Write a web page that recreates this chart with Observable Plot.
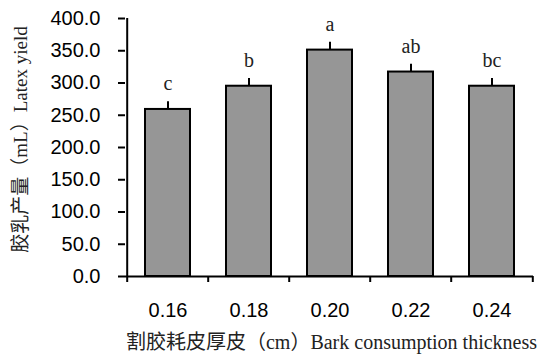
<!DOCTYPE html>
<html>
<head>
<meta charset="utf-8">
<script src="https://cdn.jsdelivr.net/npm/d3@7"></script>
<script src="https://cdn.jsdelivr.net/npm/@observablehq/plot@0.6"></script>
<style>
  html, body { margin: 0; padding: 0; background: #fff; }
</style>
</head>
<body>
<div id="chart"></div>
<script>
const categories = ["0.16", "0.18", "0.20", "0.22", "0.24"];
const values = [259, 295, 351, 317, 295];
const errors = [12, 12, 12, 12, 12];
const letters = ["c", "b", "a", "ab", "bc"];
const yTicks = [0, 50, 100, 150, 200, 250, 300, 350, 400];
const xTitle = "割胶耗皮厚皮（cm）Bark consumption thickness";
const yTitle = "胶乳产量（mL）Latex yield";

const data = categories.map((c, i) => ({cat: c, value: values[i], err: errors[i], top: values[i] + errors[i], letter: letters[i]}));

const W = 541, H = 357, ML = 125, MR = 8, MT = 18, MB = 81;
const step = (W - ML - MR) / categories.length;
const serif = "'Liberation Serif', 'Times New Roman', 'Noto Sans CJK SC', serif";
const sans = "'Liberation Sans', Arial, sans-serif";

const chart = Plot.plot({
  width: W,
  height: H,
  marginLeft: ML,
  marginRight: MR,
  marginTop: MT,
  marginBottom: MB,
  style: {fontFamily: sans, fontSize: "20px", color: "#000", background: "#fff"},
  x: {domain: categories, paddingInner: 0.45, paddingOuter: 0.225, label: null},
  y: {domain: [0, 400], label: null},
  marks: [
    Plot.barY(data, {x: "cat", y: "value", fill: "#969696", stroke: "#000", strokeWidth: 2}),
    Plot.ruleX(data, {x: "cat", y1: "value", y2: "top", stroke: "#000", strokeWidth: 2}),
    Plot.ruleY(data, {x: "cat", y: "top", stroke: "#000", strokeWidth: 2, insetLeft: 15, insetRight: 15}),
    Plot.text(data, {x: "cat", y: "top", text: "letter", dy: -18, fontFamily: serif, fontSize: 20, fill: "#222"}),
    Plot.axisY({ticks: yTicks, tickFormat: d3.format(".1f"), tickSize: 7, tickPadding: 18, strokeWidth: 2, label: null, fontSize: 20}),
    Plot.axisX({tickSize: 0, tickPadding: 26, label: null, fontSize: 20}),
    Plot.ruleY([0], {stroke: "#000", strokeWidth: 2}),
    Plot.ruleX([categories[0]], {x: d => d, y1: 0, y2: 400, dx: -step / 2, stroke: "#000", strokeWidth: 2}),
    Plot.ruleX(categories, {x: d => d, y1: 0, y2: 0, insetBottom: -6, dx: -step / 2, stroke: "#000", strokeWidth: 2}),
    Plot.ruleX([categories[categories.length - 1]], {x: d => d, y1: 0, y2: 0, insetBottom: -6, dx: step / 2, stroke: "#000", strokeWidth: 2}),
    Plot.text([xTitle], {frameAnchor: "bottom", lineAnchor: "middle", textAnchor: "middle", text: d => d, dx: 2, dy: 66, fontFamily: serif, fontSize: 20, fill: "#222"}),
    Plot.text([yTitle], {frameAnchor: "left", lineAnchor: "middle", textAnchor: "middle", text: d => d, dx: -105, dy: -8, rotate: -90, fontFamily: serif, fontSize: 19, fill: "#222"})
  ]
});
document.getElementById("chart").appendChild(chart);
</script>
</body>
</html>
